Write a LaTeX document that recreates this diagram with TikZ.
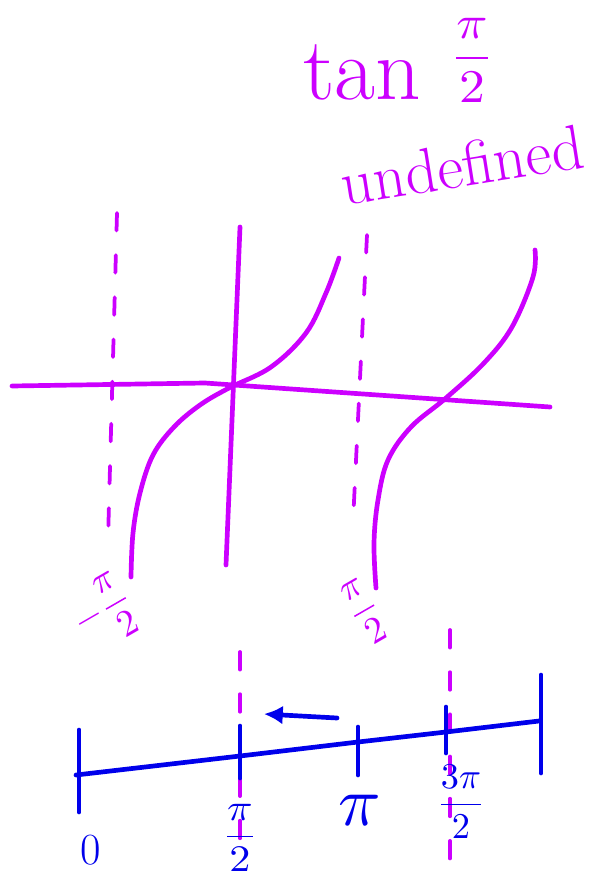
\documentclass[tikz,border=0pt]{standalone}
\usepackage{amsmath}
\usepackage{graphicx}
\usetikzlibrary{calc}
\usetikzlibrary{arrows.meta}
\definecolor{pen}{RGB}{204,0,255}
\definecolor{ink}{RGB}{0,0,235}

\begin{document}
\begin{tikzpicture}[x=0.03cm,y=-0.03cm,line width=4pt,line cap=round,line join=round,
  asym/.style={pen,line width=3.2pt,dash pattern=on 15pt off 21pt},
  curve/.style={pen,line width=4pt},
  lbl/.style={inner sep=0pt}]
\useasboundingbox (0,0) rectangle (601,879);

\node[lbl,pen,font=\fontsize{76}{80}\selectfont] (tan) at (362,72) {tan};
\node[lbl,pen] (half) at (472,60) {\scalebox{4.4}[4]{$\dfrac{\pi}{2}$}};
\node[lbl,pen,rotate=9,font=\fontsize{54}{60}\selectfont] (undef) at (462,165) {undefined};

% the graph
\coordinate (xl) at (12,386);
\coordinate (xm) at (205,383);
\coordinate (xr) at (550,407);
\coordinate (yt) at (240,227);
\coordinate (yb) at (226,565);
\coordinate (a1t) at (117,213);
\coordinate (a1b) at (108,540);
\coordinate (a2t) at (367,235);
\coordinate (a2b) at (353,522);

\draw[curve] (xl) -- (xm) -- (xr);
\draw[curve] (yt) -- (yb);
\draw[asym] (a1t) -- (a1b);
\draw[asym] (a2t) -- (a2b);

\draw[curve] plot[smooth,tension=0.6] coordinates {(131,577) (133,533) (140,493) (153,455) (174,427) (200,405) (229,388) (271,367) (306,333) (326,293) (339,258)};
\draw[curve] plot[smooth,tension=0.6] coordinates {(376,588) (374,543) (378,500) (388,460) (411,427) (446,398) (484,363) (512,327) (533,277) (535,250)};

\node[lbl,pen,rotate=30] (lh) at (104,612) {\scalebox{3.2}{$-\dfrac{\pi}{2}$}};
\node[lbl,pen,rotate=30] (rh) at (365,612) {\scalebox{3.2}{$\dfrac{\pi}{2}$}};

% the number line
\coordinate (n0) at (76,775);
\coordinate (n1) at (240,756);
\coordinate (n2) at (358,742);
\coordinate (n3) at (446,732);
\coordinate (n4) at (539,721);

\draw[asym] (240,652) -- (240,840);
\draw[asym] (450,630) -- (450,865);

\draw[ink] (n0) -- (n1) -- (n2) -- (n3) -- (n4);
\foreach \x/\a/\b in {79/730/812,240/726/778,358/727/775,446/707/753,541/675/773}
  \draw[ink] (\x,\a) -- (\x,\b);

\coordinate (ar1) at (337,718);
\coordinate (ar2) at (264,714);
\draw[ink,-{Latex[length=16pt,width=16pt]}] (ar1) -- (ar2);

\node[lbl,ink,font=\fontsize{38}{40}\selectfont] (l0) at (91,850) {0};
\node[lbl,ink] (l1) at (240,838) {\scalebox{3.6}[3.2]{$\dfrac{\pi}{2}$}};
\node[lbl,ink] (l2) at (360,810) {\scalebox{6}{$\pi$}};
\node[lbl,ink] (l3) at (461,802) {\scalebox{3.1}{$\dfrac{3\pi}{2}$}};
\end{tikzpicture}
\end{document}
